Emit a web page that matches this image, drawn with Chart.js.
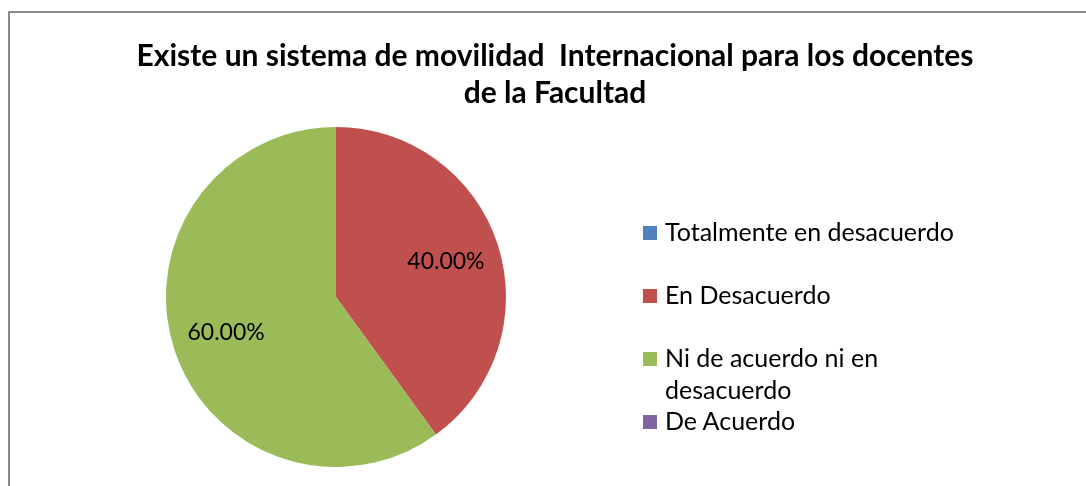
<!DOCTYPE html>
<html lang="es">
<head>
<meta charset="utf-8">
<title>Movilidad Internacional docentes</title>
<script src="https://cdn.jsdelivr.net/npm/chart.js"></script>
<style>
    html, body {
        margin: 0;
        padding: 0;
        background: #ffffff;
        overflow: hidden;
        width: 1086px;
        height: 486px;
    }
    #wrap {
        position: relative;
        width: 1086px;
        height: 486px;
        font-family: Lato, "Open Sans", sans-serif;
        color: #000000;
    }
    #frame {
        position: absolute;
        left: 8px;
        top: 11px;
        width: 1200px;
        height: 600px;
        border: 2px solid #8a8a8a;
        box-sizing: border-box;
    }
    #pieCanvas {
        position: absolute;
        left: 0;
        top: 0;
    }
    #chartTitle {
        position: absolute;
        left: 105px;
        width: 900px;
        top: 36px;
        text-align: center;
        font-weight: bold;
        font-size: 30px;
        line-height: 37px;
        white-space: pre;
    }
    .legend-item {
        position: absolute;
        left: 643px;
        display: flex;
        align-items: flex-start;
    }
    .legend-box {
        width: 14px;
        height: 14px;
        margin-top: 11px;
        margin-right: 8px;
        flex: none;
    }
    .legend-text {
        width: 305px;
        font-size: 25px;
        line-height: 32px;
    }
</style>
</head>
<body>
<div id="wrap">
    <div id="frame"></div>
    <canvas id="pieCanvas" width="1086" height="486"></canvas>
    <div id="chartTitle"></div>
    <div id="chartLegend"></div>
</div>
<script>
const chartTitle = [
    "Existe un sistema de movilidad  Internacional para los docentes",
    "de la Facultad",
];

const categories = [
    "Totalmente en desacuerdo",
    "En Desacuerdo",
    "Ni de acuerdo ni en desacuerdo",
    "De Acuerdo",
];

const percentValues = [0, 40, 60, 0];

const sliceColors = ["#4F81BD", "#C0504D", "#9BBB59", "#8064A2"];

document.addEventListener("DOMContentLoaded", () => {
    const ctx = document.getElementById("pieCanvas").getContext("2d");

    document.getElementById("chartTitle").textContent = chartTitle.join("\n");

    // Percentage labels inside the slices (no datalabels plugin offline)
    const sliceLabels = {
        id: "sliceLabels",
        afterDatasetsDraw(chart) {
            const meta = chart.getDatasetMeta(0);
            const values = chart.data.datasets[0].data;
            const total = values.reduce((a, b) => a + b, 0);
            const c = chart.ctx;
            c.save();
            c.font = "23px Lato, 'Open Sans', sans-serif";
            c.fillStyle = "#000000";
            c.textAlign = "center";
            c.textBaseline = "middle";
            meta.data.forEach((arc, i) => {
                if (!values[i]) return;
                const p = arc.getProps(["x", "y", "startAngle", "endAngle", "outerRadius"], true);
                const mid = (p.startAngle + p.endAngle) / 2;
                const r = p.outerRadius * 0.68;
                const text = ((values[i] / total) * 100).toFixed(2) + "%";
                c.fillText(text, p.x + Math.cos(mid) * r, p.y + Math.sin(mid) * r);
            });
            c.restore();
        },
    };

    const pieChart = new Chart(ctx, {
        type: "pie",
        data: {
            labels: categories,
            datasets: [
                {
                    data: percentValues,
                    backgroundColor: sliceColors,
                    borderWidth: 0,
                },
            ],
        },
        options: {
            responsive: false,
            animation: false,
            layout: {
                // pie area: x 166..506, y 127..467
                padding: { left: 166, top: 127, right: 580, bottom: 19 },
            },
            plugins: {
                legend: { display: false },
                title: { display: false },
                tooltip: { enabled: false },
            },
        },
        plugins: [sliceLabels],
    });

    // Legend on the right, built from the chart data
    const legendContainer = document.getElementById("chartLegend");
    pieChart.data.labels.forEach((label, i) => {
        const item = document.createElement("div");
        item.className = "legend-item";
        item.style.top = 215 + i * 63 + "px";

        const box = document.createElement("div");
        box.className = "legend-box";
        box.style.background = pieChart.data.datasets[0].backgroundColor[i];

        const text = document.createElement("div");
        text.className = "legend-text";
        text.textContent = label;

        item.appendChild(box);
        item.appendChild(text);
        legendContainer.appendChild(item);
    });
});
</script>
</body>
</html>
